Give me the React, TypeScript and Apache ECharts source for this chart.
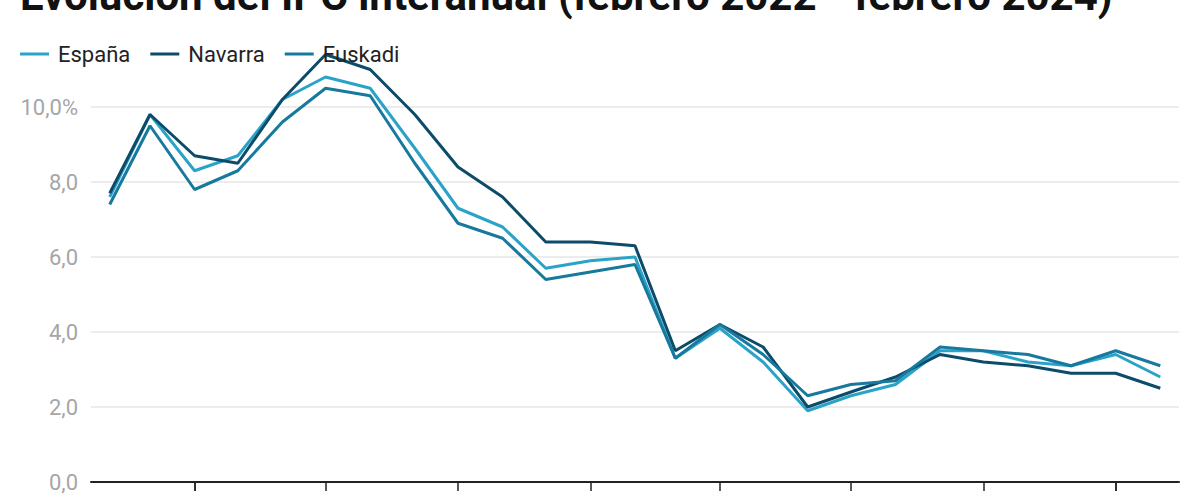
import React, { useEffect, useRef } from "react";
import * as echarts from "echarts";

const TITLE = "Evolución del IPC interanual (febrero 2022 - febrero 2024)";

const months = [
  "2022-02", "2022-03", "2022-04", "2022-05", "2022-06", "2022-07", "2022-08",
  "2022-09", "2022-10", "2022-11", "2022-12", "2023-01", "2023-02", "2023-03",
  "2023-04", "2023-05", "2023-06", "2023-07", "2023-08", "2023-09", "2023-10",
  "2023-11", "2023-12", "2024-01", "2024-02",
];

const espana = [7.6, 9.8, 8.3, 8.7, 10.2, 10.8, 10.5, 8.9, 7.3, 6.8, 5.7, 5.9, 6.0, 3.3, 4.1, 3.2, 1.9, 2.3, 2.6, 3.5, 3.5, 3.2, 3.1, 3.4, 2.8];
const navarra = [7.7, 9.8, 8.7, 8.5, 10.2, 11.4, 11.0, 9.8, 8.4, 7.6, 6.4, 6.4, 6.3, 3.5, 4.2, 3.6, 2.0, 2.4, 2.8, 3.4, 3.2, 3.1, 2.9, 2.9, 2.5];
const euskadi = [7.4, 9.5, 7.8, 8.3, 9.6, 10.5, 10.3, 8.5, 6.9, 6.5, 5.4, 5.6, 5.8, 3.3, 4.2, 3.4, 2.3, 2.6, 2.7, 3.6, 3.5, 3.4, 3.1, 3.5, 3.1];

const tickMonths = ["2022-04", "2022-07", "2022-10", "2023-01", "2023-04", "2023-07", "2023-10", "2024-01"];

const seriesNames = ["España", "Navarra", "Euskadi"];
const seriesColors = ["#2ba3c9", "#0c4b69", "#16799d"];

function ts(ym: string, dayOffset = 0): number {
  const [y, m] = ym.split("-").map(Number);
  return new Date(y, m - 1, 1 + dayOffset).getTime();
}

export default function App() {
  const ref = useRef<HTMLDivElement>(null);

  useEffect(() => {
    document.body.style.margin = "0";
    if (!ref.current) return;
    const chart = echarts.init(ref.current, null, { renderer: "svg" });
    const data = [espana, navarra, euskadi];
    const option: any = {
      animation: false,
      backgroundColor: "#ffffff",
      textStyle: { fontFamily: "Roboto" },
      graphic: [
        {
          type: "text",
          left: 20,
          top: -26,
          style: {
            text: TITLE,
            font: "bold 42px Roboto",
            fill: "#111111",
          },
        },
      ],
      legend: {
        data: seriesNames,
        left: 20,
        top: 43,
        padding: 0,
        icon: "rect",
        itemWidth: 29,
        itemHeight: 3,
        itemGap: 20,
        textStyle: {
          fontSize: 22,
          color: "#222222",
          fontFamily: "Roboto",
          padding: [0, 0, 0, 4],
        },
      },
      grid: { left: 91, right: 21, top: 32, bottom: 18, containLabel: false },
      xAxis: {
        type: "time",
        min: ts(months[0], -13),
        max: ts(months[months.length - 1], 13),
        axisLine: { show: true, lineStyle: { color: "#222222", width: 2 } },
        axisTick: {
          show: true,
          length: 9,
          lineStyle: { color: "#222222", width: 1.5 },
          customValues: tickMonths.map((m) => ts(m)),
        },
        axisLabel: { show: false },
        splitLine: { show: false },
      },
      yAxis: {
        type: "value",
        min: 0,
        max: 12,
        interval: 2,
        axisLine: { show: false },
        axisTick: { show: false },
        axisLabel: {
          color: "#a6a6a6",
          fontSize: 22,
          margin: 13,
          showMaxLabel: false,
          formatter: (v: number) => (v === 10 ? "10,0%" : v.toFixed(1).replace(".", ",")),
        },
        splitLine: {
          show: true,
          lineStyle: {
            color: ["#e6e6e6", "#e6e6e6", "#e6e6e6", "#e6e6e6", "#e6e6e6", "#e6e6e6", "rgba(0,0,0,0)"],
            width: 1.5,
          },
        },
      },
      series: seriesNames.map((name, i) => ({
        name,
        type: "line",
        showSymbol: false,
        symbol: "none",
        color: seriesColors[i],
        lineStyle: { width: 3, color: seriesColors[i] },
        data: months.map((m, j) => [ts(m), data[i][j]]),
      })),
    };
    chart.setOption(option);
    return () => chart.dispose();
  }, []);

  return (
    <div
      ref={ref}
      style={{ width: 1200, height: 500, position: "absolute", left: 0, top: 0 }}
    />
  );
}
